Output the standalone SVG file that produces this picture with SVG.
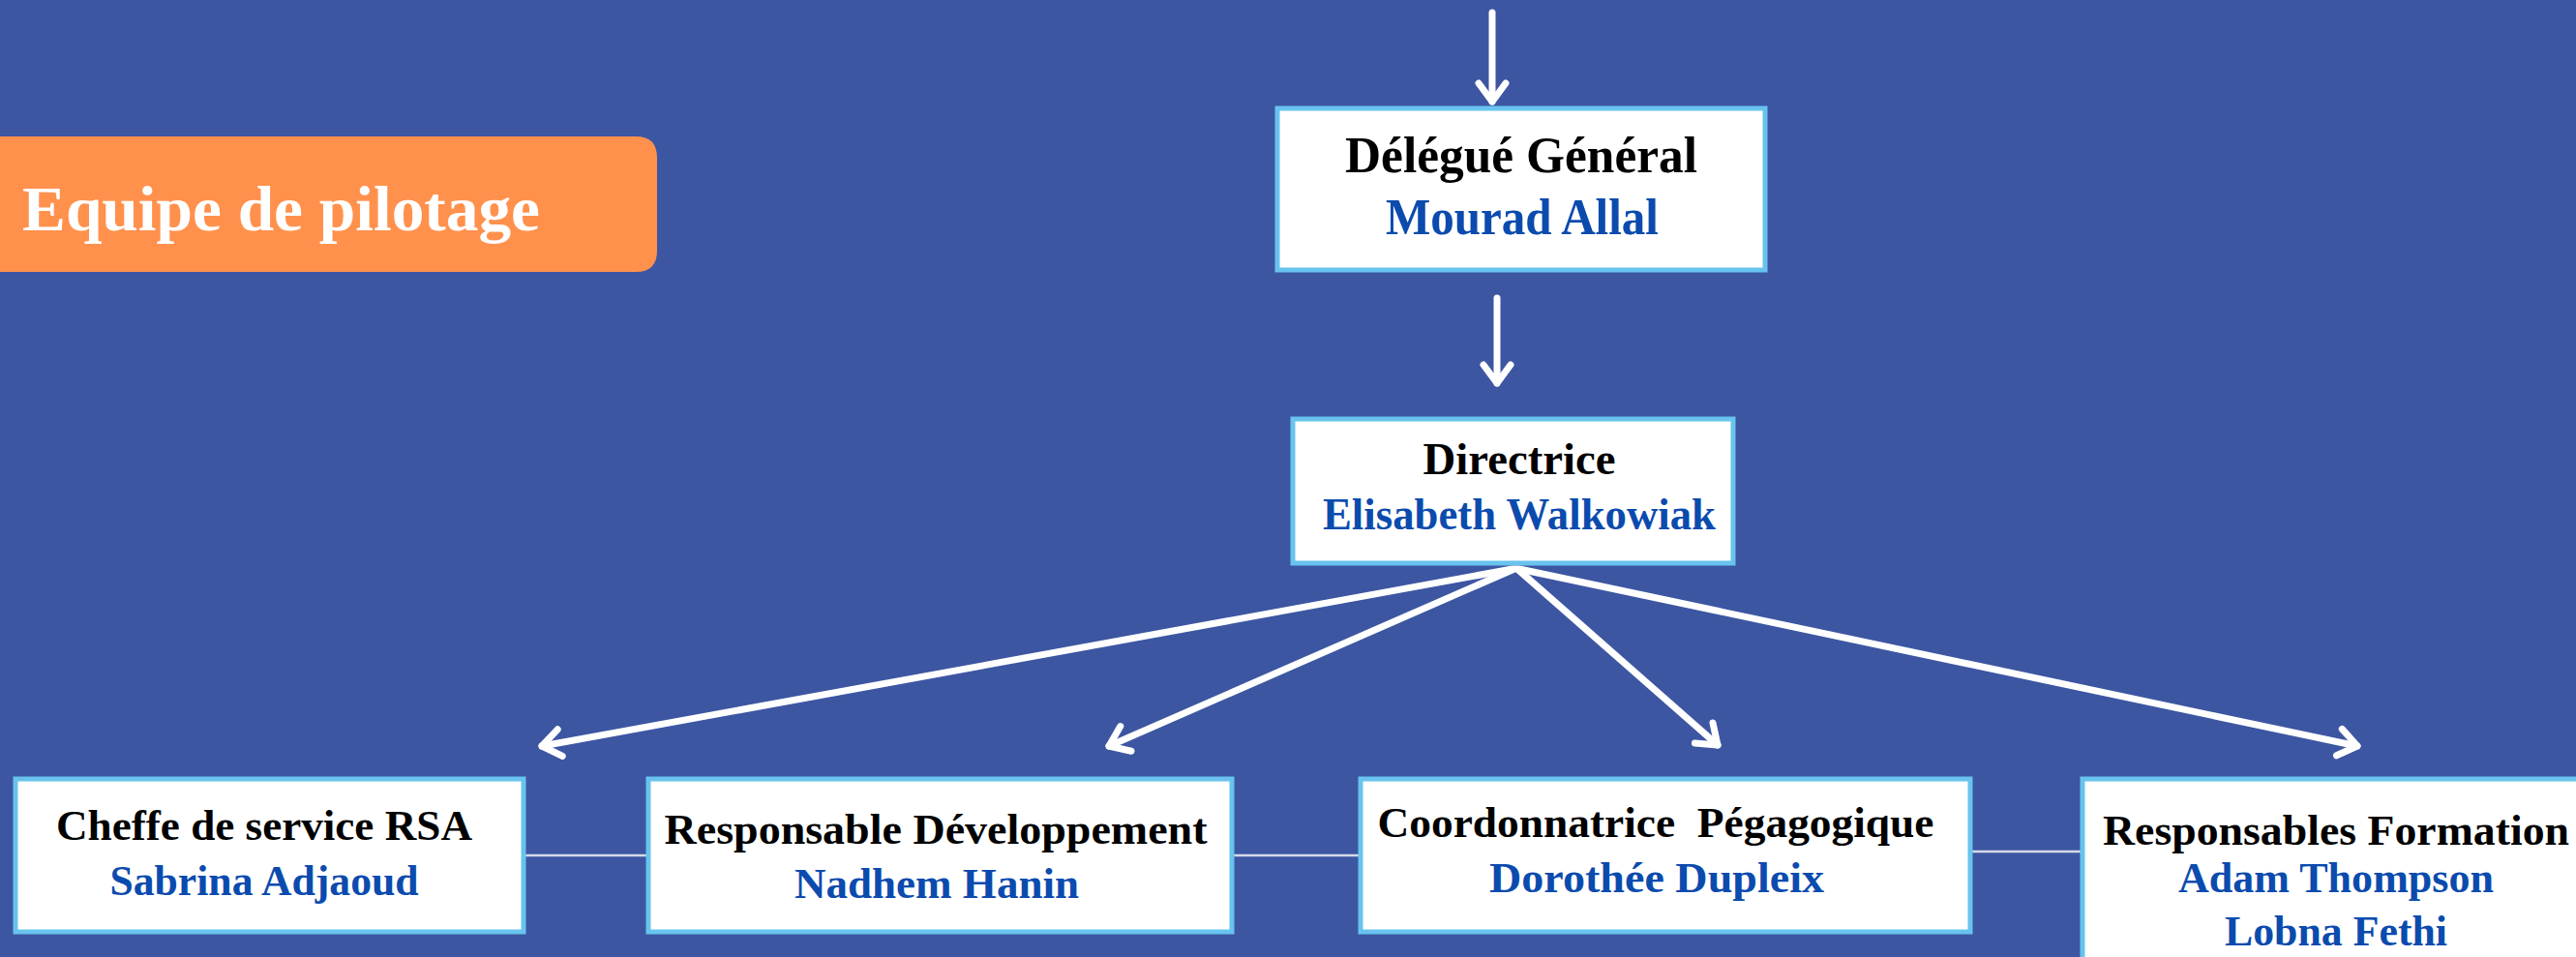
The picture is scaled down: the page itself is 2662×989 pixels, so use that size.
<svg xmlns="http://www.w3.org/2000/svg" width="2662" height="989" viewBox="0 0 2662 989">
<style>
.box{fill:#FFFFFF;stroke:#68C3EE;stroke-width:5}
.t{font-family:"Liberation Serif","DejaVu Serif",serif;font-weight:bold;text-anchor:middle;white-space:pre}
.k{fill:#000000}
.b{fill:#0B4BAE}
.arr{stroke:#FFFFFF;stroke-width:7;stroke-linecap:round;fill:none}
.link{stroke:#D5DAE8;stroke-width:2.5;fill:none}
</style>
<defs>
<marker id="ah" markerUnits="userSpaceOnUse" viewBox="-25 -20 30 40" refX="0" refY="0" markerWidth="30" markerHeight="40" orient="auto" overflow="visible">
<path d="M-19,-14 L0,0 L-19,14" fill="none" stroke="#FFFFFF" stroke-width="7" stroke-linecap="round" stroke-linejoin="round"/>
</marker>
</defs>
<rect x="0" y="0" width="2662" height="989" fill="#3C56A2"/>

<g id="banner">
<path d="M-10,141 L657,141 Q679,141 679,163 L679,259 Q679,281 657,281 L-10,281 Z" fill="#FF914D"/>
<text x="23" y="238" font-size="66" fill="#FFFFFF" font-family="Liberation Serif, DejaVu Serif, serif" font-weight="bold" textLength="535" lengthAdjust="spacingAndGlyphs">Equipe de pilotage</text>
</g>

<g id="connectors">
<line class="arr" x1="1542" y1="13" x2="1542" y2="105" marker-end="url(#ah)"/>
<line class="arr" x1="1547" y1="308" x2="1547" y2="396" marker-end="url(#ah)"/>
<line class="arr" x1="1563" y1="588" x2="560" y2="771" marker-end="url(#ah)"/>
<line class="arr" x1="1565" y1="588" x2="1146" y2="771" marker-end="url(#ah)"/>
<line class="arr" x1="1568" y1="588" x2="1775" y2="770" marker-end="url(#ah)"/>
<line class="arr" x1="1570" y1="588" x2="2436" y2="771" marker-end="url(#ah)"/>
<line class="link" x1="543" y1="884" x2="668" y2="884"/>
<line class="link" x1="1275" y1="884" x2="1404" y2="884"/>
<line class="link" x1="2038" y1="880" x2="2150" y2="880"/>
</g>

<g id="delegue">
<rect class="box" x="1320" y="112" width="504" height="167"/>
<text class="t k" x="1572" y="178" font-size="52" textLength="364" lengthAdjust="spacingAndGlyphs">Délégué Général</text>
<text class="t b" x="1573" y="242" font-size="52" textLength="282" lengthAdjust="spacingAndGlyphs">Mourad Allal</text>
</g>

<g id="directrice">
<rect class="box" x="1336" y="433" width="455" height="149"/>
<text class="t k" x="1570" y="490" font-size="47" textLength="199" lengthAdjust="spacingAndGlyphs">Directrice</text>
<text class="t b" x="1570" y="547" font-size="47" textLength="406" lengthAdjust="spacingAndGlyphs">Elisabeth Walkowiak</text>
</g>

<g id="cheffe">
<rect class="box" x="16" y="805" width="525" height="158"/>
<text class="t k" x="273" y="868" font-size="44" textLength="430" lengthAdjust="spacingAndGlyphs">Cheffe de service RSA</text>
<text class="t b" x="273" y="925" font-size="44" textLength="319" lengthAdjust="spacingAndGlyphs">Sabrina Adjaoud</text>
</g>

<g id="developpement">
<rect class="box" x="670" y="805" width="603" height="158"/>
<text class="t k" x="967" y="872" font-size="44" textLength="561" lengthAdjust="spacingAndGlyphs">Responsable Développement</text>
<text class="t b" x="968" y="928" font-size="44" textLength="294" lengthAdjust="spacingAndGlyphs">Nadhem Hanin</text>
</g>

<g id="coordonnatrice">
<rect class="box" x="1406" y="805" width="630" height="158"/>
<text class="t k" x="1711" y="865" font-size="44" textLength="575" lengthAdjust="spacingAndGlyphs">Coordonnatrice  Pégagogique</text>
<text class="t b" x="1712" y="922" font-size="44" textLength="346" lengthAdjust="spacingAndGlyphs">Dorothée Dupleix</text>
</g>

<g id="formation">
<rect class="box" x="2152" y="805" width="540" height="200"/>
<text class="t k" x="2414" y="873" font-size="44" textLength="482" lengthAdjust="spacingAndGlyphs">Responsables Formation</text>
<text class="t b" x="2414" y="922" font-size="44" textLength="326" lengthAdjust="spacingAndGlyphs">Adam Thompson</text>
<text class="t b" x="2414" y="977" font-size="44" textLength="230" lengthAdjust="spacingAndGlyphs">Lobna Fethi</text>
</g>
</svg>
